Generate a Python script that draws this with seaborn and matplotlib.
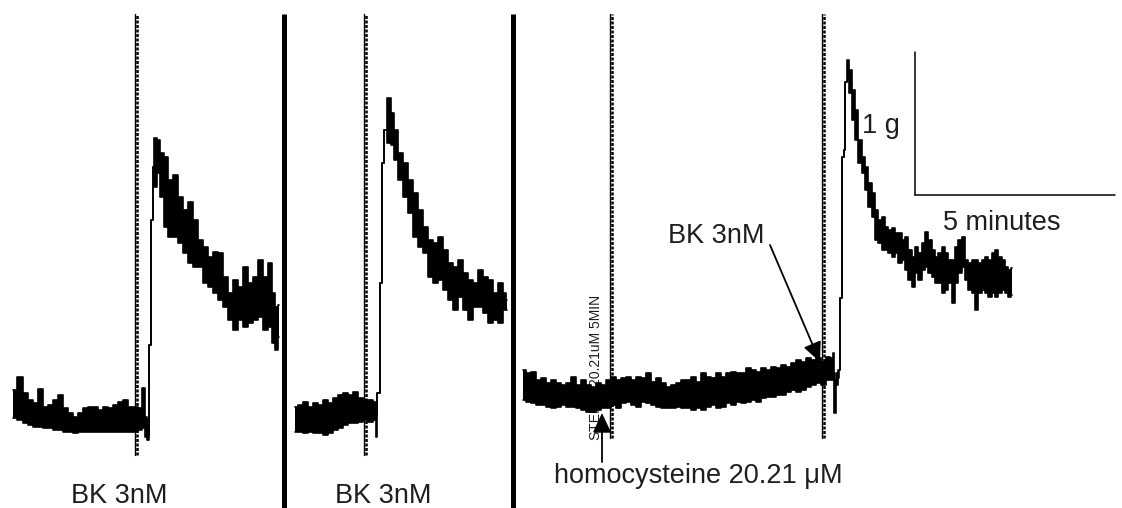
import numpy as np
import pandas as pd
import matplotlib
matplotlib.use("Agg")
import matplotlib.pyplot as plt
import seaborn as sns

# ---------------- data (time in s, tension in mg) ----------------
p1_time = [19.5, 30, 37.5, 45, 52.5, 61.5, 67.5, 75, 82.5, 90,
           97.5, 105, 112.5, 120, 127.5, 135, 142.5, 150, 157.5, 165,
           172.5, 180, 187.5, 195, 202.5, 210, 214.5, 219, 222, 223.5,
           224.25, 226.5, 227.25, 229.5, 230.25, 232.5, 237, 243, 247.5, 255,
           262.5, 270, 277.5, 285, 292.5, 300, 307.5, 315, 322.5, 330,
           337.5, 345, 352.5, 360, 367.5, 375, 382.5, 390, 397.5, 405,
           409.5, 414, 418.5]
p1_upper = [455, 546, 434, 385, 364, 462, 336, 350, 385, 420,
            329, 294, 266, 294, 329, 336, 336, 315, 336, 329,
            350, 371, 385, 336, 336, 329, 469, 266, 245, 140,
            770, 770, 1645, 1645, 2016, 2219, 2205, 2114, 2086, 1925,
            1960, 1806, 1715, 1771, 1645, 1505, 1456, 1386, 1421, 1414,
            1246, 1134, 1225, 1176, 1316, 1204, 1246, 1365, 1246, 1344,
            1134, 1036, 1050]
p1_lower = [259, 245, 224, 210, 196, 196, 189, 189, 175, 175,
            161, 161, 154, 161, 161, 161, 161, 161, 161, 161,
            161, 161, 161, 161, 161, 175, 189, 126, 105, 105,
            770, 770, 1645, 1645, 2016, 1876, 1974, 1806, 1596, 1526,
            1526, 1484, 1414, 1344, 1316, 1316, 1204, 1176, 1134, 1085,
            1036, 945, 875, 945, 896, 924, 945, 966, 875, 896,
            784, 735, 826]

p2_time = [442.5, 450, 457.5, 465, 472.5, 480, 487.5, 495, 502.5, 510,
           517.5, 525, 532.5, 540, 547.5, 555, 562.5, 565.5, 566.7, 569.25,
           570, 573, 573.75, 577.5, 583.5, 588, 592.5, 600, 607.5, 615,
           622.5, 630, 637.5, 645, 652.5, 660, 667.5, 675, 682.5, 690,
           697.5, 705, 712.5, 720, 727.5, 735, 742.5, 750, 757.5, 760.5]
p2_upper = [336, 350, 371, 336, 364, 350, 385, 364, 399, 420,
            434, 420, 441, 399, 385, 385, 371, 280, 434, 434,
            1204, 1204, 2044, 2275, 2499, 2394, 2275, 2114, 2044, 1925,
            1834, 1715, 1596, 1505, 1484, 1526, 1435, 1344, 1316, 1365,
            1274, 1225, 1204, 1295, 1246, 1225, 1134, 1204, 1134, 1085]
p2_lower = [161, 161, 154, 161, 154, 154, 140, 154, 175, 189,
            210, 224, 224, 231, 245, 231, 245, 126, 434, 434,
            1204, 1204, 2044, 2275, 2184, 2170, 2065, 1925, 1806, 1694,
            1526, 1456, 1414, 1246, 1204, 1225, 1155, 1085, 1015, 1106,
            1015, 945, 1036, 1036, 994, 924, 945, 924, 1015, 1015]

p3_time = [784.5, 792, 799.5, 807, 814.5, 822, 829.5, 837, 844.5, 852,
           859.5, 867, 874.5, 882, 889.5, 897, 904.5, 912, 919.5, 927,
           934.5, 942, 949.5, 957, 964.5, 972, 979.5, 987, 994.5, 1002,
           1009.5, 1017, 1024.5, 1032, 1039.5, 1047, 1054.5, 1062, 1069.5, 1077,
           1084.5, 1092, 1099.5, 1107, 1114.5, 1122, 1129.5, 1137, 1144.5, 1152,
           1159.5, 1167, 1174.5, 1182, 1189.5, 1197, 1204.5, 1212, 1219.5, 1227,
           1234.5, 1242, 1248, 1249.5, 1252.5, 1255.5, 1258.5,
           1259.4, 1260, 1263, 1263.75, 1267.5, 1268.25, 1272,
           1275, 1279.5, 1284, 1290, 1294.5, 1299, 1305, 1309.5, 1314, 1320,
           1324.5, 1329, 1335, 1339.5, 1344, 1350, 1354.5, 1359, 1365, 1369.5,
           1374, 1380, 1384.5, 1389, 1395, 1399.5, 1404, 1410, 1414.5, 1419,
           1425, 1429.5, 1434, 1440, 1444.5, 1449, 1455, 1459.5, 1464, 1470,
           1474.5, 1479, 1485, 1489.5, 1494, 1500, 1504.5, 1509, 1515, 1518]
p3_upper = [595, 574, 581, 525, 539, 504, 525, 504, 490, 504,
            546, 490, 525, 490, 476, 504, 490, 525, 546, 525,
            539, 546, 525, 546, 539, 574, 511, 539, 504, 476,
            490, 504, 525, 525, 546, 511, 574, 546, 539, 574,
            546, 574, 581, 574, 574, 609, 595, 581, 609, 595,
            616, 609, 630, 616, 644, 665, 651, 679, 665, 679,
            651, 686, 679, 714, 525, 574, 595,
            595, 1099, 1099, 2086, 2135, 2611, 2765,
            2695, 2555, 2415, 2205, 2086, 2016, 1904, 1834, 1715, 1645,
            1666, 1596, 1575, 1589, 1554, 1554, 1505, 1526, 1435, 1386,
            1456, 1414, 1484, 1561, 1505, 1435, 1386, 1414, 1456, 1414,
            1365, 1365, 1456, 1505, 1526, 1365, 1344, 1365, 1365, 1344,
            1365, 1386, 1365, 1414, 1435, 1386, 1365, 1316, 1295, 1309]
p3_lower = [385, 371, 364, 350, 350, 336, 329, 336, 350, 336,
            336, 329, 315, 301, 301, 315, 329, 329, 350, 329,
            364, 371, 350, 336, 371, 364, 350, 336, 329, 329,
            329, 336, 329, 329, 315, 329, 315, 336, 350, 329,
            336, 364, 350, 371, 364, 371, 385, 371, 399, 406,
            406, 420, 420, 441, 455, 441, 455, 476, 490, 504,
            490, 525, 525, 574, 294, 490, 539,
            595, 1099, 1099, 2086, 2135, 2611, 2625,
            2534, 2345, 2205, 2044, 1974, 1855, 1736, 1666, 1505, 1484,
            1435, 1435, 1414, 1386, 1414, 1344, 1365, 1295, 1225, 1176,
            1274, 1225, 1295, 1316, 1274, 1246, 1204, 1204, 1134, 1155,
            1204, 1064, 1204, 1274, 1316, 1225, 1155, 1134, 1015, 1134,
            1155, 1134, 1106, 1134, 1106, 1134, 1155, 1134, 1106, 1120]

# drug additions (s) and panel breaks (s)
bk_times = [202.5, 546, 1233]
homocys_time = 915
panel_breaks = [426, 769.5]

label_bk = "BK 3nM"
label_hcy = "homocysteine 20.21 \u03bcM"
label_marker = "STEINE 20.21uM 5MIN"
scale_g_label = "1 g"
scale_min_label = "5 minutes"
scale_g = 1000      # mg
scale_min = 300     # s

# ---------------- style ----------------
sns.set_theme(style="white")
plt.rcParams["font.family"] = ["Liberation Sans", "DejaVu Sans"]
TXT = "#1e1e1e"

fig = plt.figure(figsize=(11.22, 5.08), dpi=100)
ax = fig.add_axes([0, 0, 1, 1])

# ---------------- traces ----------------
rows = []
for name, t, up, lo in [("p1", p1_time, p1_upper, p1_lower),
                        ("p2", p2_time, p2_upper, p2_lower),
                        ("p3", p3_time, p3_upper, p3_lower)]:
    ax.fill_between(t, lo, up, color="black", linewidth=0, zorder=3, step="mid")
    for tt, u, l in zip(t, up, lo):
        rows.append({"trace": name + "_u", "time": tt, "tension": u})
        rows.append({"trace": name + "_l", "time": tt, "tension": l})
df = pd.DataFrame(rows)
sns.lineplot(data=df, x="time", y="tension", units="trace", estimator=None,
             sort=False, color="black", linewidth=1.2, ax=ax, zorder=4,
             legend=False, drawstyle="steps-mid")
ax.set_xlim(0, 1683)
ax.set_ylim(-371, 3185)
ax.axis("off")

# ---------------- event markers ----------------
top = 3087
bottoms = [0, 0, 119, 119]
for x, b in zip(bk_times[:2] + [homocys_time, bk_times[2]], bottoms):
    ax.plot([x, x], [b, top], color="black", lw=1.0, zorder=2)
    ax.plot([x + 3, x + 3], [b, top], color="black", lw=1.8,
            linestyle=(0, (1.2, 0.6)), zorder=2)

for x in panel_breaks:
    ax.plot([x, x], [-371, top], color="black", lw=3.6, zorder=5,
            solid_capstyle="butt")

# ---------------- scale bar ----------------
sx, sy = 1372.5, 1820
ax.plot([sx, sx], [sy, sy + scale_g], color="black", lw=1.1)
ax.plot([sx, sx + scale_min], [sy, sy], color="black", lw=1.1)
ax.text(1322, 2254, scale_g_label, ha="center", va="baseline", fontsize=19.5, color=TXT)
ax.text(1502, 1575, scale_min_label, ha="center", va="baseline", fontsize=19.5, color=TXT)

# ---------------- labels ----------------
ax.text(178.5, -336, label_bk, ha="center", va="baseline", fontsize=19.5, color=TXT)
ax.text(574.5, -336, label_bk, ha="center", va="baseline", fontsize=19.5, color=TXT)
ax.text(1047, -196, label_hcy, ha="center", va="baseline", fontsize=19.5, color=TXT)
ax.text(1074, 1484, label_bk, ha="center", va="baseline", fontsize=19.5, color=TXT)
ax.text(894, 105, label_marker, rotation=90, ha="center", va="bottom",
        fontsize=10, color=TXT, zorder=1)

arrow = dict(arrowstyle="-|>,head_length=0.6,head_width=0.28", lw=1.3,
             color="black", mutation_scale=20, shrinkA=0, shrinkB=0)
ax.annotate("", xy=(903, 294), xytext=(903, -49), arrowprops=arrow, zorder=6)
ax.annotate("", xy=(1230, 651), xytext=(1155, 1470), arrowprops=arrow, zorder=6)

fig.savefig("out.png", dpi=100, facecolor="white")
